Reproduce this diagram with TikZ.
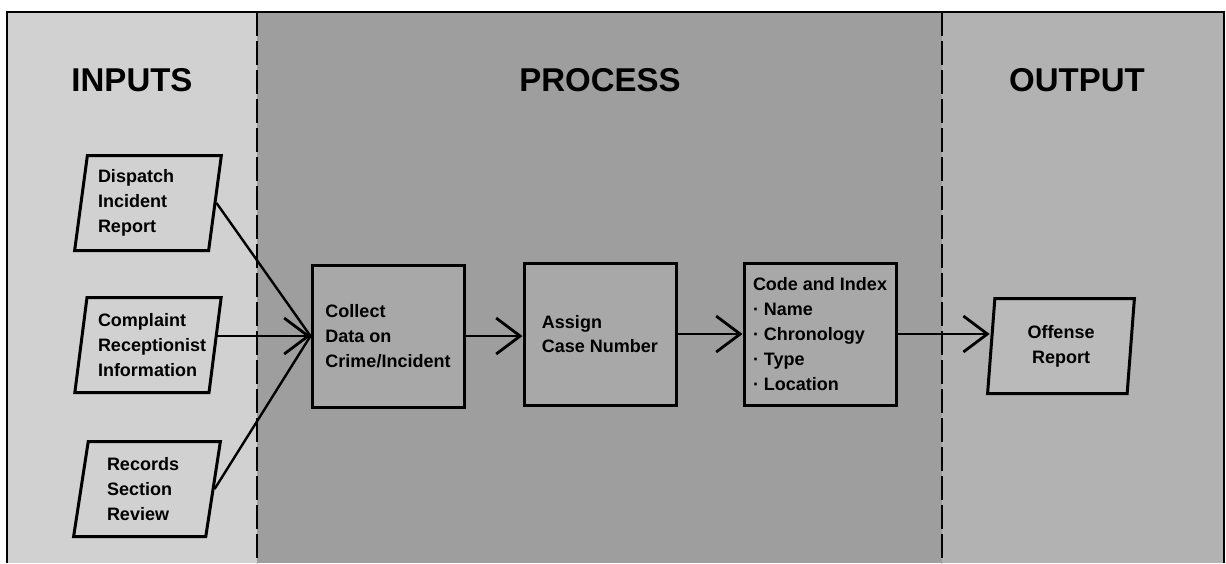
\documentclass[tikz,border=0pt]{standalone}
\usepackage{fontspec}
\setmainfont{Liberation Sans}
\usetikzlibrary{shapes.geometric,arrows.meta}
\definecolor{inbg}{gray}{0.82}
\definecolor{procbg}{gray}{0.62}
\definecolor{outbg}{gray}{0.70}
\definecolor{procbox}{gray}{0.66}
\definecolor{offbox}{gray}{0.73}

\begin{document}
\begin{tikzpicture}[x=0.5pt,y=-0.5pt]
\tikzstyle{every node}+=[inner sep=0pt]
\tikzstyle{paneltitle}=[font=\fontsize{16.5}{18}\selectfont\bfseries, anchor=base]
\tikzstyle{boxtext}=[font=\fontsize{9}{12.4}\selectfont\bfseries, align=left]
\tikzstyle{inputbox}=[boxtext, trapezium, trapezium left angle=81, trapezium right angle=99, trapezium stretches=true, draw, line width=1.5pt, fill=inbg, minimum width=73.5pt, minimum height=47.5pt, text width=50pt]
\tikzstyle{procstep}=[boxtext, rectangle, draw, line width=1.5pt, fill=procbox, minimum width=76pt, minimum height=71pt]
\tikzstyle{flow}=[line width=1.2pt, -{Straight Barb[length=12pt,width=18pt,line width=1.4pt]}]
\tikzstyle{divider}=[line width=1.3pt, dash pattern=on 12pt off 2.5pt]
\useasboundingbox (0,0) rectangle (1226,563);
\fill[inbg] (7,12) rectangle (257,563);
\fill[procbg] (257,12) rectangle (942,563);
\fill[outbg] (942,12) rectangle (1224,563);
\draw[line width=1.3pt] (7,563) -- (7,12) -- (1224,12) -- (1224,563);
\draw[divider] (257,12) -- (257,563);
\draw[divider] (942,12) -- (942,563);
\node[paneltitle] (intitle) at (132,91) {INPUTS};
\node[paneltitle] (proctitle) at (600,91) {PROCESS};
\node[paneltitle] (outtitle) at (1077,91) {OUTPUT};
\node[inputbox] (dispatch) at (148,203) {Dispatch\\Incident\\Report};
\node[inputbox] (complaint) at (148,345) {Complaint\\Receptionist\\Information};
\node[inputbox, text width=40pt] (records) at (147,489) {Records\\Section\\Review};
\node[procstep] (collect) at (388,336) {Collect\\Data on\\Crime/Incident};
\node[procstep] (assign) at (600,334) {Assign\\Case Number};
\node[procstep] (code) at (820,334) {Code and Index\\· Name\\· Chronology\\· Type\\· Location};
\node[inputbox, fill=offbox, text width=60pt, align=center] (offense) at (1061,346) {Offense\\Report};
\draw[line width=1.2pt] (dispatch.east) -- (collect.west);
\draw[line width=1.2pt] (records.east) -- (collect.west);
\draw[flow] (complaint.east |- collect.west) -- (collect.west);
\draw[flow] (collect.east) -- (assign.west |- collect.east);
\draw[flow] (assign.east) -- (code.west);
\draw[flow] (code.east) -- (code.east -| offense.west);
\end{tikzpicture}
\end{document}
